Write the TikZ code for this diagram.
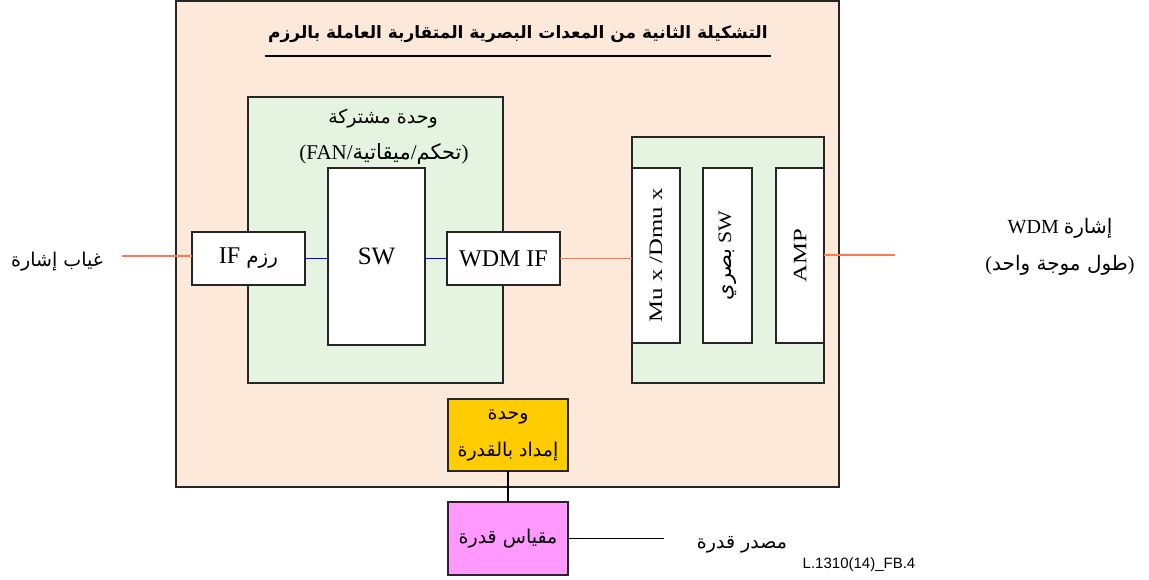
\documentclass[tikz,border=0pt]{standalone}
\usepackage{fontspec}
\setmainfont{Liberation Serif}
\newfontfamily\arfont[Script=Arabic]{DejaVu Sans}
\newfontfamily\labelsans{Liberation Sans}
\TeXXeTstate=1
\newcommand{\artext}[1]{{\arfont\beginR #1\endR}}
\definecolor{peach}{RGB}{253,233,217}
\definecolor{mint}{RGB}{228,244,224}
\definecolor{gold}{RGB}{255,204,0}
\definecolor{orchid}{RGB}{255,153,255}
\definecolor{coral}{RGB}{255,120,80}
\begin{document}
\begin{tikzpicture}[x=1pt,y=-1pt,
  box/.style={draw=black!85,line width=1.3pt,inner sep=0pt,outer sep=0pt},
  lat/.style={font=\fontsize{24}{28}\selectfont},
  arb/.style={font=\fontsize{19}{37}\selectfont},
  vlab/.style={rotate=90,font=\fontsize{19}{22}\selectfont},
  fibre/.style={draw=coral,line width=1.4pt},
  elec/.style={draw=blue,line width=1.5pt},
  wire/.style={draw=black,line width=1.2pt}]
\useasboundingbox (0,0) rectangle (1149,579);
% equipment shelf
\node[box,fill=peach,minimum width=663,minimum height=486] (shelf) at (507.5,244) {};
\node[font=\fontsize{17}{20}\selectfont\bfseries] (title) at (518,34)
  {\artext{التشكيلة الثانية من المعدات البصرية المتقاربة العاملة بالرزم}};
\draw[line width=1.3pt] ([yshift=-10pt]title.south west) -- ([yshift=-10pt]title.south east);
% common unit
\node[box,fill=mint,minimum width=255,minimum height=286] (common) at (375.5,240) {};
\node[arb] (commonA) at (383,119) {\artext{وحدة مشتركة}};
\node[font=\fontsize{21}{24}\selectfont] (commonB) at (384,154)
  {(FAN/\artext{ميقاتية}/\artext{تحكم})};
\node[box,fill=white,minimum width=97,minimum height=177,font=\fontsize{25}{28}\selectfont]
  (sw) at (376.5,256.5) {SW};
\node[box,fill=white,minimum width=113,minimum height=53,lat] (pif) at (248.5,258.5)
  {IF {\fontsize{20}{24}\selectfont\artext{رزم}}};
\node[box,fill=white,minimum width=113,minimum height=53,lat] (wif) at (503.5,258.5) {WDM IF};
% WDM unit
\node[box,fill=mint,minimum width=192,minimum height=246] (wdm) at (728,260) {};
\node[box,fill=white,minimum width=48,minimum height=175] (mux) at (656,255.5) {};
\node[box,fill=white,minimum width=49,minimum height=175] (osw) at (727.5,255.5) {};
\node[box,fill=white,minimum width=48,minimum height=175] (amp) at (800,255.5) {};
\node[vlab] at (mux.center) {\scalebox{1.3}[1]{Mu x /Dmu x}};
\node[vlab] at (osw.center) {{\fontsize{21}{24}\selectfont\artext{بصري}} \scalebox{1.15}[1]{SW}};
\node[vlab] at (amp.center) {\scalebox{1.3}[1]{AMP}};
% power
\node[box,fill=gold,minimum width=120,minimum height=72,arb,align=center] (psu) at (508,435)
  {\artext{وحدة}\\\artext{إمداد بالقدرة}};
\node[box,fill=orchid,minimum width=120,minimum height=73,arb] (meter) at (508,538.5)
  {\artext{مقياس قدرة}};
% outside labels
\node[arb] (lost) at (57,262) {\artext{غياب إشارة}};
\node[font=\fontsize{20}{37}\selectfont,align=center] (wsig) at (1060,247)
  {WDM \artext{إشارة}\\(\artext{طول موجة واحد})};
\node[arb] (src) at (742,545) {\artext{مصدر قدرة}};
\node[font=\labelsans\fontsize{15}{17}\selectfont] (ref) at (859,565) {L.1310(14)\_FB.4};
\coordinate (lostEnd) at (122,256);
\coordinate (wsigEnd) at (895,255);
\coordinate (srcEnd) at (664,538.5);
% connections
\draw[fibre] (lostEnd) -- (lostEnd -| pif.west);
\draw[elec] (pif.east) -- (pif.east -| sw.west);
\draw[elec] (wif.west -| sw.east) -- (wif.west);
\draw[fibre] (wif.east) -- (wif.east -| mux.west);
\draw[fibre] (wsigEnd -| amp.east) -- (wsigEnd);
\draw[wire] (psu.south) -- (meter.north);
\draw[wire] (meter.east) -- (srcEnd);
\end{tikzpicture}
\end{document}
